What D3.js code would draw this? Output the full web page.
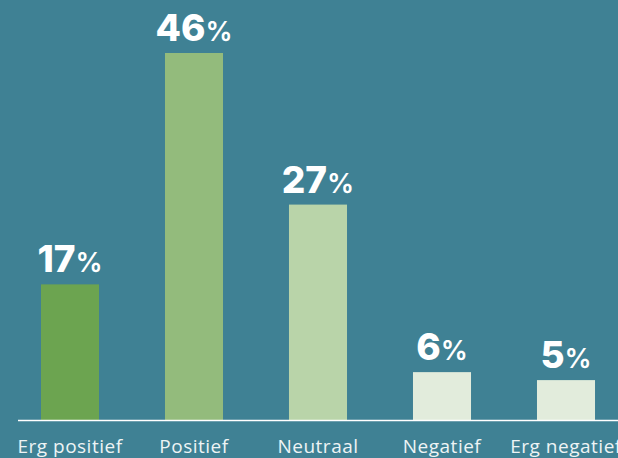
<!DOCTYPE html>
<html>
<head>
<meta charset="utf-8">
<script src="https://cdn.jsdelivr.net/npm/d3@7"></script>
<style>
  html, body { margin: 0; padding: 0; background: #3f8194; overflow: hidden; }
</style>
</head>
<body>
<div id="chart"></div>
<script>
// survey answers, share in percent
const categories = ['Erg positief', 'Positief', 'Neutraal', 'Negatief', 'Erg negatief'];
const values = [17, 46, 27, 6, 5];
const barColors = ['#6ca450', '#93bb7c', '#b9d4a9', '#e2ecdc', '#e2ecdc'];

const width = 618;
const height = 458;
const baseline = 420;

const svg = d3.select('#chart')
    .append('svg')
    .attr('width', width)
    .attr('height', height);

svg.append('rect')
    .attr('width', width)
    .attr('height', height)
    .attr('fill', '#3f8194');

const x = d3.scaleBand()
    .domain(categories)
    .range([8, 628])
    .paddingInner(0.532)
    .paddingOuter(0.266);

const y = d3.scaleLinear()
    .domain([0, 46])
    .range([baseline, 53]);

// bars
svg.selectAll('.bar')
    .data(values)
    .enter()
    .append('rect')
    .attr('class', 'bar')
    .attr('x', (d, i) => x(categories[i]))
    .attr('y', d => y(d))
    .attr('width', x.bandwidth())
    .attr('height', d => baseline - y(d))
    .attr('fill', (d, i) => barColors[i]);

// value labels
const labels = svg.selectAll('.value')
    .data(values)
    .enter()
    .append('text')
    .attr('class', 'value')
    .attr('x', (d, i) => x(categories[i]) + x.bandwidth() / 2)
    .attr('y', d => y(d) - 12)
    .attr('text-anchor', 'middle')
    .attr('fill', '#ffffff')
    .style('font-family', 'Inter, "Open Sans", sans-serif');

labels.append('tspan')
    .style('font-size', '37px')
    .style('font-weight', 800)
    .text(d => d);

labels.append('tspan')
    .style('font-size', '27px')
    .style('font-weight', 600)
    .text('%');

// baseline axis
const axis = svg.append('g')
    .attr('transform', `translate(0,${baseline})`)
    .call(d3.axisBottom(x).tickSize(0).tickPadding(20));

axis.select('.domain')
    .attr('d', `M18,0.5H${width}`)
    .attr('stroke', '#ffffff')
    .attr('stroke-width', 1.5);

axis.selectAll('text')
    .attr('fill', '#eef4f5')
    .style('font-family', '"Open Sans", sans-serif')
    .style('font-size', '19px')
    .style('font-weight', 400)
    .style('letter-spacing', '0.5px');
</script>
</body>
</html>
